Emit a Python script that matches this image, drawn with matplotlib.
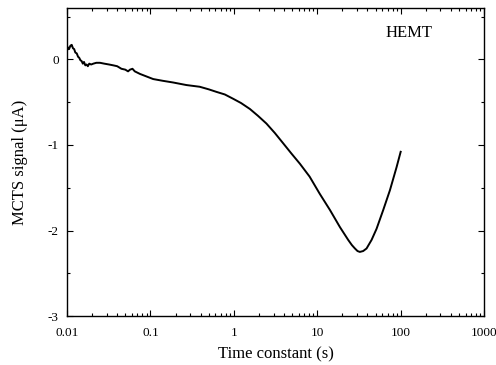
import numpy as np
import matplotlib
matplotlib.use("Agg")
import matplotlib.pyplot as plt
from matplotlib.ticker import FixedLocator, NullFormatter, MultipleLocator

plt.rcParams['font.family'] = ['Liberation Serif', 'DejaVu Serif']
plt.rcParams['axes.unicode_minus'] = False

# values (time constant in s, signal in uA)
tau = [0.010, 0.0103, 0.0106, 0.011, 0.0114, 0.0118, 0.0122, 0.0126, 0.0131,
       0.0136, 0.014, 0.0145, 0.015, 0.0155, 0.016, 0.0166, 0.0172, 0.0178,
       0.0185, 0.0195, 0.0207, 0.0225, 0.0249, 0.028, 0.032, 0.036, 0.040,
       0.045, 0.050, 0.054, 0.057, 0.061, 0.065, 0.075, 0.09, 0.108, 0.14,
       0.187, 0.27, 0.39, 0.50, 0.62, 0.78, 0.98, 1.22, 1.56, 1.95, 2.46, 3.1,
       3.9, 4.9, 6.2, 8.1, 10.7, 14.2, 18.7, 23.5, 26, 28.3, 30.4, 32.4, 35.5,
       39, 44.8, 51.4, 61.8, 74.3, 89.3, 100]
signal = [0.10, 0.14, 0.12, 0.16, 0.17, 0.13, 0.12, 0.08, 0.07,
          0.03, 0.02, -0.01, -0.02, -0.05, -0.03, -0.07, -0.06, -0.08,
          -0.05, -0.06, -0.05, -0.04, -0.04, -0.05, -0.06, -0.07, -0.08,
          -0.11, -0.12, -0.14, -0.12, -0.11, -0.14, -0.17, -0.20, -0.23, -0.25,
          -0.27, -0.30, -0.32, -0.35, -0.38, -0.41, -0.46, -0.51, -0.58, -0.66,
          -0.75, -0.86, -0.98, -1.10, -1.22, -1.37, -1.57, -1.76, -1.96, -2.11,
          -2.17, -2.21, -2.24, -2.25, -2.24, -2.21, -2.11, -1.98, -1.76, -1.53,
          -1.26, -1.08]

fig = plt.figure(figsize=(4.96, 3.65), dpi=100)
ax = fig.add_axes([0.135, 0.134, 0.841, 0.844])

ax.plot(tau, signal, color='black', lw=1.4)

ax.set_xscale('log')
ax.set_xlim(0.01, 1000)
ax.set_ylim(-3, 0.6)
ax.xaxis.set_major_locator(FixedLocator([0.01, 0.1, 1, 10, 100, 1000]))
ax.set_xticklabels(['0.01', '0.1', '1', '10', '100', '1000'])
ax.xaxis.set_minor_formatter(NullFormatter())
ax.yaxis.set_major_locator(FixedLocator([0, -1, -2, -3]))
ax.set_yticklabels(['0', '-1', '-2', '-3'])
ax.yaxis.set_minor_locator(MultipleLocator(0.5))

ax.tick_params(which='both', direction='in', top=True, right=True, labelsize=9.5)
ax.tick_params(axis='x', pad=8)
ax.tick_params(axis='y', pad=6)
ax.tick_params(which='major', length=4, width=0.8)
ax.tick_params(which='minor', length=2.5, width=0.8)
for s in ax.spines.values():
    s.set_linewidth(1.0)

ax.set_xlabel('Time constant (s)', fontsize=12, labelpad=5)
ax.set_ylabel('MCTS signal (\u03bcA)', fontsize=12, labelpad=14)
ax.text(0.763, 0.905, 'HEMT', transform=ax.transAxes, fontsize=12)

fig.savefig('out.png', dpi=100)
